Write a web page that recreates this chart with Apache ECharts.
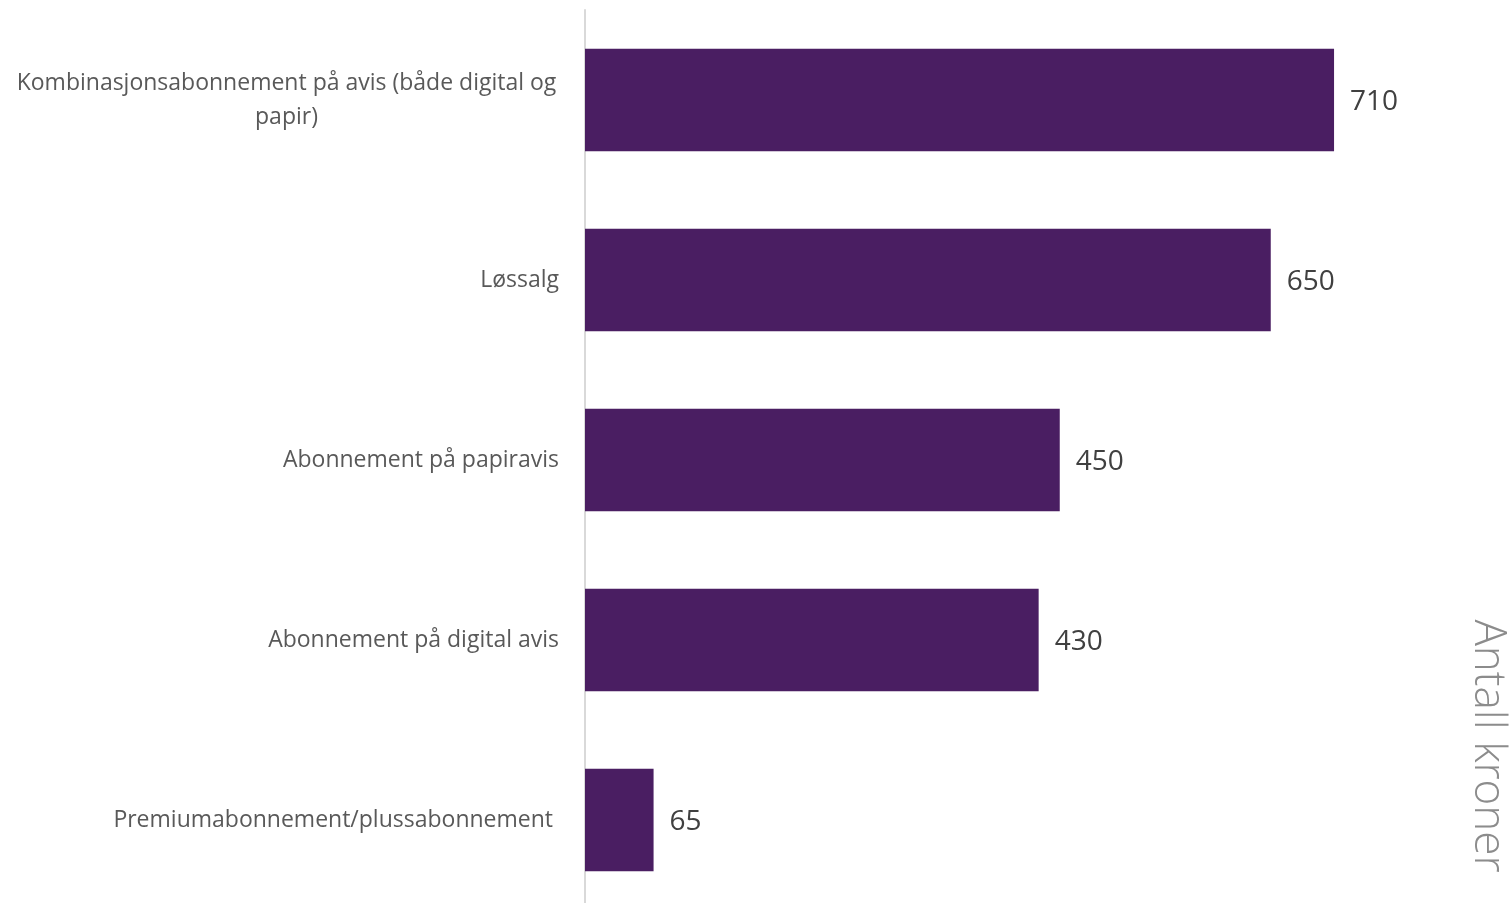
<!DOCTYPE html>
<html><head><meta charset="utf-8">
<script src="https://cdn.jsdelivr.net/npm/echarts@6/dist/echarts.min.js"></script>
<style>html,body{margin:0;padding:0;background:#fff}#c{width:1509px;height:903px}</style>
</head><body><div id="c"></div>
<script>
const categories = [
  "Kombinasjonsabonnement på avis (både digital og\npapir)",
  "Løssalg",
  "Abonnement på papiravis",
  "Abonnement på digital avis",
  "Premiumabonnement/plussabonnement "
];
const values = [710, 650, 450, 430, 65];
const axisTitle = "Antall kroner";

const chart = echarts.init(document.getElementById('c'), null, {renderer: 'canvas'});
chart.setOption({
  animation: false,
  grid: {left: 585, top: 10, height: 900, width: 844, containLabel: false, outerBoundsMode: 'none'},
  xAxis: {
    type: 'value', min: 0, max: 800,
    axisLine: {show: false}, axisTick: {show: false}, axisLabel: {show: false}, splitLine: {show: false}
  },
  yAxis: {
    type: 'category', inverse: true, data: categories,
    axisLine: {show: true, lineStyle: {color: '#d9d9d9', width: 2}},
    axisTick: {show: false},
    axisLabel: {
      margin: 26, color: '#595959', fontFamily: 'Open Sans', fontSize: 23, lineHeight: 34,
      formatter: function (v) {
        if (v.indexOf('\n') >= 0) {
          return v.split('\n').map(s => '{c|' + s + '}').join('\n');
        }
        return v;
      },
      rich: {c: {width: 545, align: 'center', color: '#595959', fontFamily: 'Open Sans', fontSize: 23, lineHeight: 34}}
    }
  },
  series: [{
    type: 'bar', data: values, barCategoryGap: '43%',
    itemStyle: {color: '#4a1e62'},
    label: {show: true, position: 'right', distance: 16, offset: [0, 2], color: '#404040', fontFamily: 'Open Sans', fontSize: 28}
  }],
  graphic: [{
    type: 'text', x: 1488, y: 746, rotation: -Math.PI / 2,
    style: {text: axisTitle, fill: '#8c8c8c', fontFamily: 'Open Sans', fontWeight: 300, fontSize: 44, align: 'center', verticalAlign: 'middle'}
  }]
});
</script></body></html>
